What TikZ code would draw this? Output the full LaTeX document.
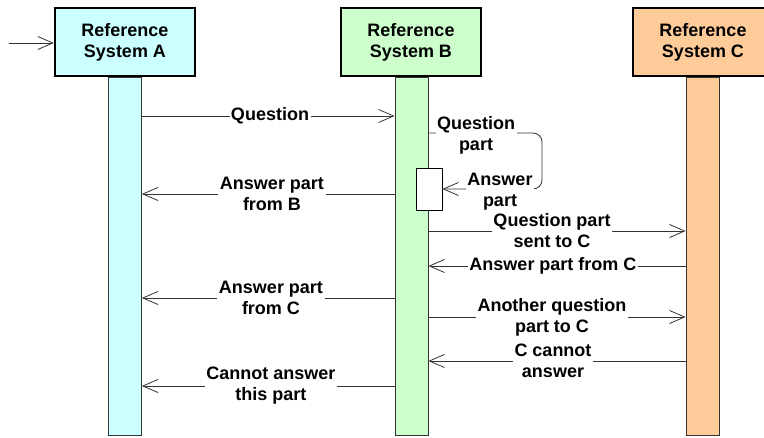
\documentclass[tikz,border=0pt]{standalone}
\usepackage{fontspec}
\setmainfont{Liberation Sans}
\usetikzlibrary{arrows.meta}
\definecolor{cA}{HTML}{CCFFFF}
\definecolor{cB}{HTML}{CCFFCC}
\definecolor{cC}{HTML}{FFCC99}
\definecolor{ln}{HTML}{333333}
\begin{document}
\begin{tikzpicture}[x=1pt,y=-1pt,
  sysbox/.style={draw=black, line width=2.4pt, minimum width=140pt, minimum height=68pt, inner sep=0pt, align=center, font=\bfseries\fontsize{18}{21}\selectfont},
  lifeline/.style={draw=ln, line width=0.8pt, minimum width=33pt, minimum height=358pt, inner sep=0pt, anchor=north},
  msg/.style={draw=ln, line width=0.8pt, -{Straight Barb[length=15pt,width=13pt]}},
  lbl/.style={fill=white, inner sep=1.5pt, align=center, text=black, font=\bfseries\fontsize{18}{21}\selectfont}]
\useasboundingbox (0,0) rectangle (764,438);
\clip (0,0) rectangle (764,438);
\fill[white] (0,0) rectangle (764,438);
% lifelines
\node[lifeline, fill=cA] (lA) at (125,77) {};
\node[lifeline, fill=cB] (lB) at (411.5,77) {};
\node[lifeline, fill=cC] (lC) at (702.5,77) {};
% system boxes
\node[sysbox, fill=cA] (A) at (125,42) {Reference\\System A};
\node[sysbox, fill=cB] (B) at (411,42) {Reference\\System B};
\node[sysbox, fill=cC] (C) at (703,42) {Reference\\System C};
% activation box
\node[draw=black, fill=white, line width=0.8pt, minimum width=26pt, minimum height=42pt, inner sep=0pt] (act) at (429,189) {};
% message heights
\coordinate (start) at (9,43);
\coordinate (y1) at (0,116);
\coordinate (y2) at (0,133);
\coordinate (y3) at (0,189);
\coordinate (y4) at (0,194);
\coordinate (y5) at (0,231);
\coordinate (y6) at (0,266);
\coordinate (y7) at (0,298);
\coordinate (y8) at (0,317);
\coordinate (y9) at (0,361);
\coordinate (y10) at (0,386);
\coordinate (bend1) at (542,133);
\coordinate (bend2) at (542,189);
% messages
\draw[msg] (start) -- (A.west |- start);
\draw[msg] (lA.east |- y1) -- (lB.west |- y1);
\draw[msg, rounded corners=9pt] (lB.east |- y2) -- (bend1) -- (bend2) -- (act.east |- y3);
\draw[msg] (lB.west |- y4) -- (lA.east |- y4);
\draw[msg] (lB.east |- y5) -- (lC.west |- y5);
\draw[msg] (lC.west |- y6) -- (lB.east |- y6);
\draw[msg] (lB.west |- y7) -- (lA.east |- y7);
\draw[msg] (lB.east |- y8) -- (lC.west |- y8);
\draw[msg] (lC.west |- y9) -- (lB.east |- y9);
\draw[msg] (lB.west |- y10) -- (lA.east |- y10);
% labels
\node[lbl] (t1) at (270,116) {Question};
\node[lbl] (t2) at (476,135) {Question\\part};
\node[lbl] (t3) at (500,192) {Answer\\part};
\node[lbl] (t4) at (272,194) {Answer part\\from B};
\node[lbl] (t5) at (552,231) {Question part\\sent to C};
\node[lbl] (t6) at (553,266) {Answer part from C};
\node[lbl] (t7) at (271,298) {Answer part\\from C};
\node[lbl] (t8) at (552,317) {Another question\\part to C};
\node[lbl] (t9) at (553,361) {C cannot\\answer};
\node[lbl] (t10) at (271,386) {Cannot answer\\this part};
\end{tikzpicture}
\end{document}
